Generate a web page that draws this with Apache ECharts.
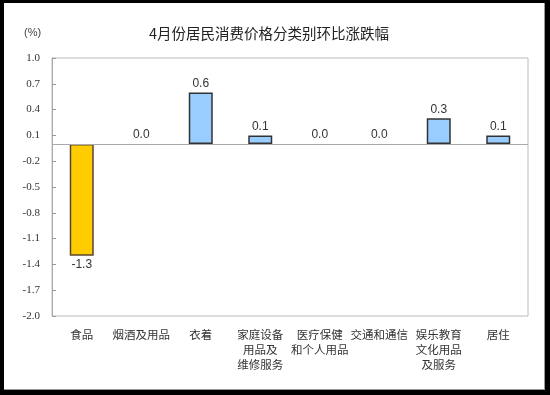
<!DOCTYPE html>
<html>
<head>
<meta charset="utf-8">
<script src="https://cdn.jsdelivr.net/npm/echarts@6/dist/echarts.min.js"></script>
<style>
html,body{margin:0;padding:0;background:#000;width:550px;height:395px;overflow:hidden;}
#frame{position:absolute;left:4px;top:3px;width:541px;height:387px;background:#fff;box-shadow:inset -1px -1px 0 #999;}
#chart{position:absolute;left:0;top:0;width:550px;height:395px;}
</style>
</head>
<body>
<div id="frame"></div>
<div id="chart"></div>
<script>
var categories = ['食品','烟酒及用品','衣着','家庭设备\n用品及\n维修服务','医疗保健\n和个人用品','交通和通信','娱乐教育\n文化用品\n及服务','居住'];
var values = [-1.3, 0.0, 0.6, 0.1, 0.0, 0.0, 0.3, 0.1];
var titleText = '4月份居民消费价格分类别环比涨跌幅';
var unitText = '(%)';

var chart = echarts.init(document.getElementById('chart'), null, {renderer:'canvas'});
var option = {
  backgroundColor: 'transparent',
  animation: false,
  title: {
    text: titleText, left: 264, top: 21, textAlign: 'center',
    textStyle: {fontSize: 14.5, fontWeight: 'normal', color: '#222', fontFamily: 'Noto Sans CJK SC'}
  },
  graphic: [{
    type: 'text', left: 24, top: 27,
    style: {text: unitText, fontSize: 11, fill: '#444', fontFamily: 'Liberation Sans'}
  }],
  grid: {left: 52, right: 22, top: 58, bottom: 79, show: true, borderColor: '#bbb', borderWidth: 1, backgroundColor: '#fff'},
  xAxis: {
    type: 'category', data: categories,
    axisLine: {show: false, onZero: false},
    axisTick: {show: false},
    axisLabel: {interval: 0, fontSize: 11.5, lineHeight: 15, color: '#333', margin: 11, fontFamily: 'Noto Sans CJK SC'}
  },
  yAxis: {
    type: 'value', min: -2, max: 1, interval: 0.3,
    axisLine: {show: true, lineStyle: {color: '#aaa'}},
    axisTick: {show: true, inside: true, length: 4, lineStyle: {color: '#999'}},
    splitLine: {show: false},
    axisLabel: {fontSize: 11, color: '#333', fontFamily: 'Liberation Serif', margin: 12,
      formatter: function(v){ return (Math.round(v*10)/10).toFixed(1); }}
  },
  series: [{
    type: 'bar', barWidth: 24,
    data: values.map(function(v){
      var style;
      if (v < 0) style = {color: '#FFCC00', borderColor: '#5a4630', borderWidth: 1.5};
      else if (v === 0) style = {color: 'rgba(0,0,0,0)', borderColor: 'rgba(0,0,0,0)', borderWidth: 0};
      else style = {color: '#99CCFF', borderColor: '#333', borderWidth: 1.5};
      var d = {value: v, itemStyle: style};
      if (v < 0) d.label = {position: 'bottom'};
      return d;
    }),
    label: {show: true, position: 'top', distance: 3, fontSize: 12, color: '#333', fontFamily: 'Liberation Sans',
      formatter: function(p){ return p.value.toFixed(1); }},
    markLine: {
      silent: true, symbol: 'none', label: {show: false},
      lineStyle: {color: '#aaa', type: 'solid', width: 1},
      data: [{yAxis: 0}]
    }
  }]
};
chart.setOption(option);
</script>
</body>
</html>
